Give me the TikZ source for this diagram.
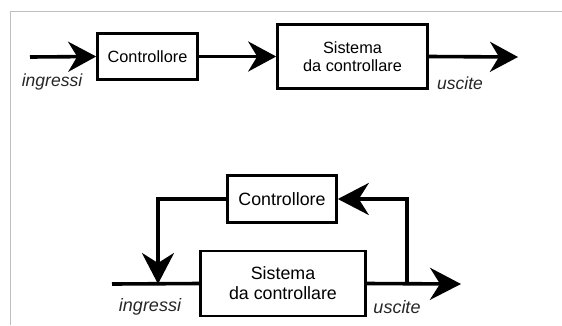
\documentclass[tikz,border=0pt]{standalone}
\usepackage{fontspec}
\setmainfont{Liberation Sans}
\usetikzlibrary{arrows.meta}
\begin{document}
\begin{tikzpicture}[x=1pt,y=-1pt,
  blk/.style={draw=black, line width=2.6pt, inner sep=0pt, align=center},
  wire/.style={draw=black, line width=3.6pt},
  flow/.style={wire, -{Stealth[length=28pt,width=30pt,inset=9pt]}},
  bigflow/.style={wire, -{Stealth[length=31pt,width=32pt,inset=10pt]}},
  lbl/.style={font=\fontsize{17.5}{20}\selectfont\itshape, text=black!85},
]
\useasboundingbox (0,0) rectangle (562,325);
% frame
\draw[black!25, line width=1pt] (10.5,325) -- (10.5,11) -- (562,11);

% open-loop chain
\node[blk, minimum width=100pt, minimum height=46pt,
      font=\fontsize{16.3}{18}\selectfont] (c1) at (147.5,56.5) {Controllore};
\node[blk, minimum width=150pt, minimum height=64pt,
      font=\fontsize{16.3}{18}\selectfont] (s1) at (352.5,56.5) {Sistema\\da controllare};
\coordinate (in1) at (30,57);
\coordinate (out1) at (518,57);
\draw[flow] (in1) -- (c1.west);
\draw[flow] (c1.east) -- (s1.west);
\draw[flow] (s1.east) -- (out1);
\node[lbl] (li1) at (52,82) {ingressi};
\node[lbl] (lu1) at (460,83) {uscite};

% closed-loop chain
\node[blk, minimum width=109pt, minimum height=47pt,
      font=\fontsize{17.8}{20}\selectfont] (c2) at (282,199) {Controllore};
\node[blk, minimum width=165pt, minimum height=65pt,
      font=\fontsize{17.8}{20}\selectfont] (s2) at (283,283.5) {Sistema\\da controllare};
\coordinate (in2) at (112,284);
\coordinate (sum2) at (158,284);
\coordinate (tap2) at (407,284);
\coordinate (out2) at (461,284);
\draw[wire] (in2) -- (s2.west);
\draw[bigflow] (c2.west) -| (sum2);
\draw[bigflow] (s2.east) -- (out2);
\draw[bigflow] (tap2) |- (c2.east);
\node[lbl, font=\fontsize{18}{20}\selectfont\itshape] (li2) at (150,307) {ingressi};
\node[lbl, font=\fontsize{18}{20}\selectfont\itshape] (lu2) at (397,307) {uscite};
\end{tikzpicture}
\end{document}
